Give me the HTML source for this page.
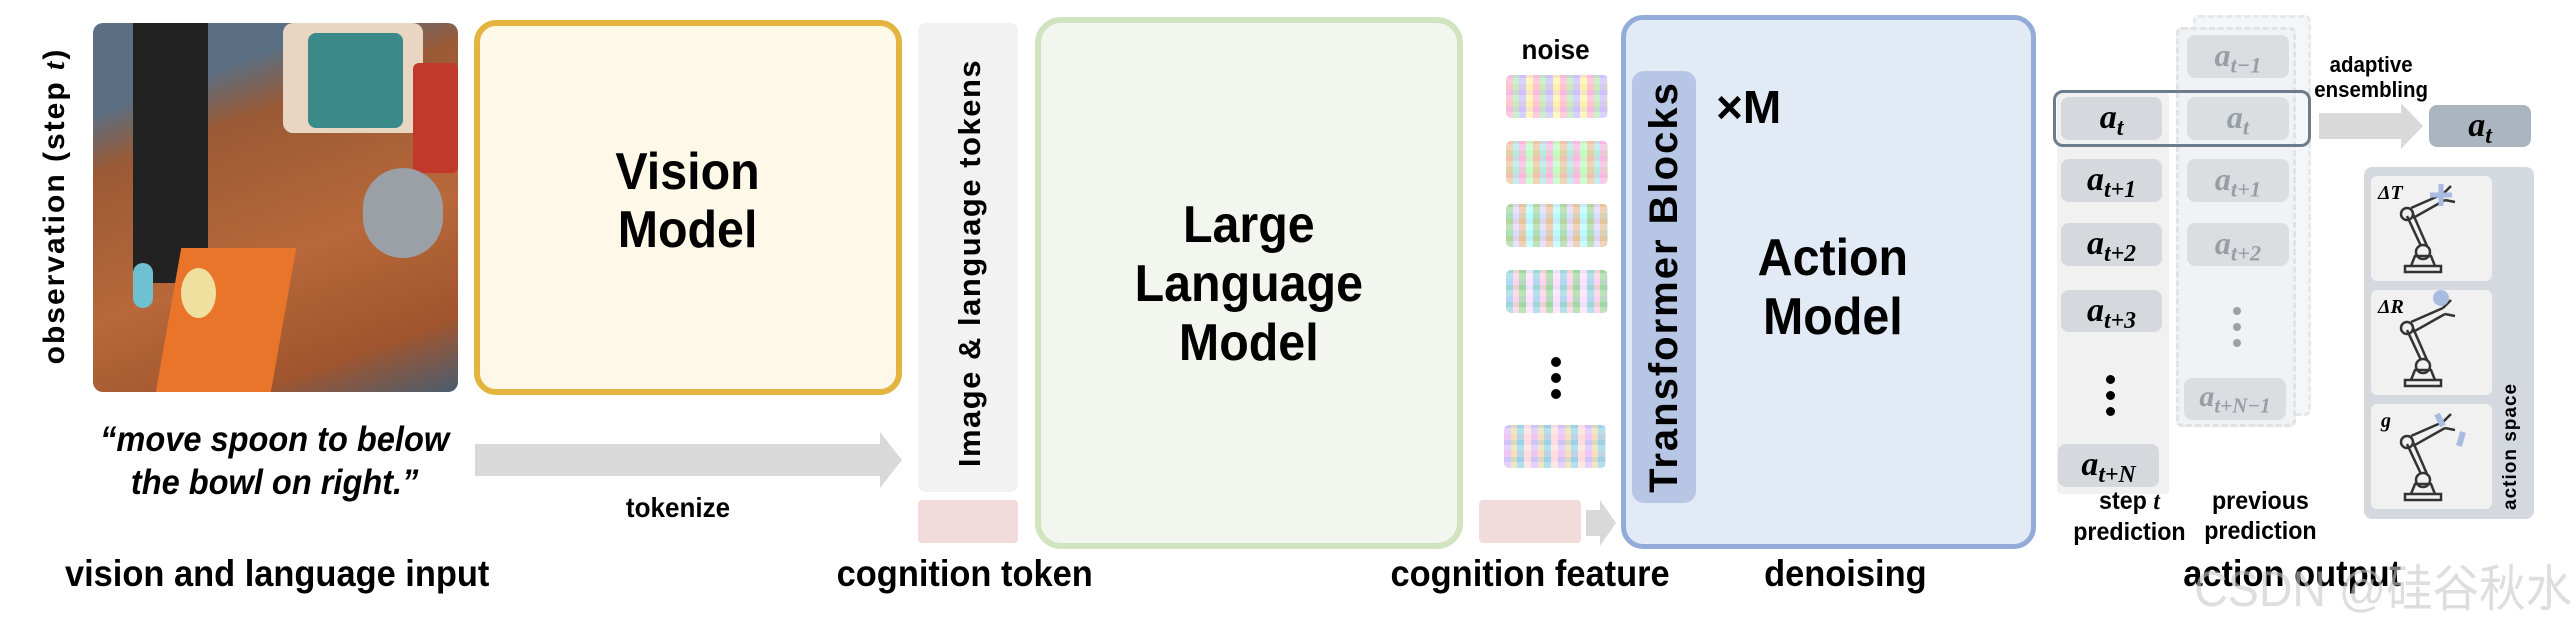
<!DOCTYPE html>
<html><head><meta charset="utf-8"><style>
*{margin:0;padding:0;box-sizing:border-box}
body{width:2576px;height:620px;background:#fff;position:relative;overflow:hidden;font-family:"Liberation Sans",sans-serif}
.a{position:absolute}
.t{position:absolute;text-align:center;white-space:nowrap;color:#000}
.c{display:inline-block;transform:scaleX(0.93);transform-origin:center}
.box{position:absolute;border-radius:8px;background:#d5d9dd}
.s{font-family:"Liberation Serif",serif;font-style:italic;font-weight:bold;position:absolute;text-align:center;white-space:nowrap}
.s sub{font-size:70%;vertical-align:-0.3em}
.f{color:#989ea6}
.np{position:absolute;width:102px;height:43px;border-radius:5px;
background:
repeating-linear-gradient(90deg,rgba(255,170,200,.6) 0 7px,rgba(170,230,170,.6) 7px 13px,rgba(190,180,255,.6) 13px 20px,rgba(255,240,150,.6) 20px 27px),
repeating-linear-gradient(0deg,rgba(255,255,255,.5) 0 6px,rgba(200,150,255,.4) 6px 11px,rgba(255,220,170,.5) 11px 17px)}
</style></head><body>

<!-- observation -->
<div class="t" style="left:-130px;top:186px;width:370px;height:40px;transform:rotate(-90deg);font-size:30px;font-weight:bold;letter-spacing:2px;line-height:40px">observation (step <i style="font-family:'Liberation Serif',serif">t</i>)</div>
<div class="a" style="left:93px;top:23px;width:365px;height:369px;border-radius:10px;overflow:hidden;background:linear-gradient(160deg,#5a6f84 0%,#5a6f84 18%,#9a5a35 30%,#b8683a 60%,#a0552e 85%,#4a5d70 100%)">
 <div class="a" style="left:190px;top:0;width:140px;height:110px;background:#e8d5c2;border-radius:10px"></div>
 <div class="a" style="left:215px;top:10px;width:95px;height:95px;background:#3a8a8a;border-radius:8px"></div>
 <div class="a" style="left:320px;top:40px;width:45px;height:110px;background:#c0392b;border-radius:6px"></div>
 <div class="a" style="left:270px;top:145px;width:80px;height:90px;background:#9aa0a6;border-radius:40px"></div>
 <div class="a" style="left:40px;top:0;width:75px;height:260px;background:#222"></div>
 <div class="a" style="left:75px;top:225px;width:115px;height:150px;background:#e8752a;transform:skewX(-10deg)"></div>
 <div class="a" style="left:88px;top:245px;width:35px;height:50px;background:#f0e0a0;border-radius:50%"></div>
 <div class="a" style="left:40px;top:240px;width:20px;height:45px;background:#6fc0d0;border-radius:10px"></div>
</div>
<div class="t" style="left:60px;top:418px;width:430px;font-size:35px;font-style:italic;font-weight:bold;line-height:43px"><span class="c">“move spoon to below<br>the bowl on right.”</span></div>

<!-- vision model -->
<div class="a" style="left:474px;top:20px;width:428px;height:375px;border:6px solid #e3b53f;border-radius:22px;background:#fdf8e7"></div>
<div class="t" style="left:474px;top:143px;width:428px;font-size:52px;font-weight:bold;line-height:58px"><span class="c">Vision<br>Model</span></div>

<!-- tokenize arrow -->
<svg class="a" style="left:470px;top:425px" width="440" height="70"><polygon points="5,19 410,19 410,7 432,35 410,63 410,51 5,51" fill="#d9d9d9"/></svg>
<div class="t" style="left:578px;top:492px;width:200px;font-size:28px;font-weight:bold"><span class="c">tokenize</span></div>

<!-- tokens column -->
<div class="a" style="left:918px;top:23px;width:100px;height:469px;border-radius:8px;background:#f2f2f2"></div>
<div class="t" style="left:745px;top:243px;width:450px;height:40px;line-height:40px;transform:rotate(-90deg);font-size:31px;font-weight:bold;letter-spacing:1.5px">Image &amp; language tokens</div>
<div class="a" style="left:918px;top:500px;width:100px;height:43px;border-radius:4px;background:#f2dbdb"></div>

<!-- LLM -->
<div class="a" style="left:1035px;top:17px;width:428px;height:532px;border:6px solid #d0e4c0;border-radius:26px;background:#f2f6ee"></div>
<div class="t" style="left:1035px;top:196px;width:428px;font-size:52px;font-weight:bold;line-height:59px"><span class="c">Large<br>Language<br>Model</span></div>

<!-- noise -->
<div class="t" style="left:1506px;top:34px;width:100px;font-size:28px;font-weight:bold"><span class="c">noise</span></div>
<div class="np" style="left:1506px;top:75px"></div>
<div class="np" style="left:1506px;top:141px;filter:hue-rotate(60deg)"></div>
<div class="np" style="left:1506px;top:204px;filter:hue-rotate(140deg)"></div>
<div class="np" style="left:1506px;top:270px;filter:hue-rotate(220deg)"></div>
<div class="a" style="left:1551px;top:357px;width:10px;height:10px;border-radius:50%;background:#000;box-shadow:0 16px 0 #000,0 32px 0 #000"></div>
<div class="np" style="left:1504px;top:425px;filter:hue-rotate(300deg)"></div>
<div class="a" style="left:1479px;top:500px;width:102px;height:43px;border-radius:4px;background:#f2dbdb"></div>
<svg class="a" style="left:1584px;top:498px" width="36" height="50"><polygon points="2,12 16,12 16,2 32,25 16,48 16,38 2,38" fill="#d9d9d9"/></svg>

<!-- action model -->
<div class="a" style="left:1621px;top:15px;width:415px;height:534px;border:5px solid #93abd9;border-radius:22px;background:#e1eaf5"></div>
<div class="a" style="left:1632px;top:71px;width:64px;height:432px;border-radius:12px;background:#b6c6e4"></div>
<div class="t" style="left:1439px;top:267px;width:450px;height:40px;line-height:40px;transform:rotate(-90deg);font-size:40px;font-weight:bold;letter-spacing:2px">Transformer Blocks</div>
<div class="t" style="left:1716px;top:80px;font-size:46px;font-weight:bold">×M</div>
<div class="t" style="left:1733px;top:229px;width:200px;font-size:52px;font-weight:bold;line-height:59px"><span class="c">Action<br>Model</span></div>

<!-- step column -->
<div class="a" style="left:2057px;top:92px;width:112px;height:402px;background:#f1f1f1;border-radius:4px"></div>
<!-- previous column (dashed) -->
<div class="a" style="left:2193px;top:15px;width:118px;height:401px;border:3px dashed #e6e9ec;border-radius:6px;background:#f5f6f7"></div>
<div class="a" style="left:2176px;top:27px;width:120px;height:400px;border:3px dashed #e0e3e6;border-radius:6px;background:#f1f2f3"></div>

<div class="box" style="left:2061px;top:97px;width:101px;height:43px"></div>
<div class="box" style="left:2061px;top:159px;width:101px;height:43px"></div>
<div class="box" style="left:2061px;top:223px;width:101px;height:43px"></div>
<div class="box" style="left:2061px;top:290px;width:101px;height:42px"></div>
<div class="box" style="left:2058px;top:444px;width:101px;height:43px"></div>
<div class="s" style="left:2061px;top:99px;width:101px;font-size:34px">a<sub>t</sub></div>
<div class="s" style="left:2061px;top:161px;width:101px;font-size:34px">a<sub>t+1</sub></div>
<div class="s" style="left:2061px;top:225px;width:101px;font-size:34px">a<sub>t+2</sub></div>
<div class="s" style="left:2061px;top:292px;width:101px;font-size:34px">a<sub>t+3</sub></div>
<div class="a" style="left:2106px;top:375px;width:9px;height:9px;border-radius:50%;background:#000;box-shadow:0 16px 0 #000,0 32px 0 #000"></div>
<div class="s" style="left:2058px;top:446px;width:101px;font-size:34px">a<sub>t+N</sub></div>

<div class="box" style="left:2187px;top:35px;width:102px;height:43px;background:#dbdee1"></div>
<div class="box" style="left:2187px;top:97px;width:102px;height:43px;background:#dbdee1"></div>
<div class="box" style="left:2187px;top:159px;width:102px;height:43px;background:#dbdee1"></div>
<div class="box" style="left:2187px;top:223px;width:102px;height:43px;background:#dbdee1"></div>
<div class="box" style="left:2184px;top:378px;width:102px;height:42px;background:#dbdee1"></div>
<div class="s f" style="left:2187px;top:37px;width:102px;font-size:32px">a<sub>t−1</sub></div>
<div class="s f" style="left:2187px;top:99px;width:102px;font-size:32px">a<sub>t</sub></div>
<div class="s f" style="left:2187px;top:161px;width:102px;font-size:32px">a<sub>t+1</sub></div>
<div class="s f" style="left:2187px;top:225px;width:102px;font-size:32px">a<sub>t+2</sub></div>
<div class="a" style="left:2233px;top:307px;width:8px;height:8px;border-radius:50%;background:#9aa0a6;box-shadow:0 16px 0 #9aa0a6,0 32px 0 #9aa0a6"></div>
<div class="s f" style="left:2184px;top:380px;width:102px;font-size:30px">a<sub>t+N−1</sub></div>

<div class="a" style="left:2053px;top:90px;width:258px;height:57px;border:3px solid #6b7d8d;border-radius:10px"></div>

<div class="t" style="left:2069px;top:486px;width:90px;font-size:25px;font-weight:bold;line-height:30px"><span class="c">step <i style="font-family:'Liberation Serif',serif">t</i><br>prediction</span></div>
<div class="t" style="left:2200px;top:486px;width:116px;font-size:25px;font-weight:bold;line-height:30px"><span class="c">previous<br>prediction</span></div>

<!-- ensembling -->
<div class="t" style="left:2310px;top:52px;width:120px;font-size:22px;font-weight:bold;line-height:25px"><span class="c">adaptive<br>ensembling</span></div>
<svg class="a" style="left:2316px;top:100px" width="110" height="52"><polygon points="3,13 85,13 85,3 107,26 85,49 85,39 3,39" fill="#d9d9d9"/></svg>
<div class="box" style="left:2429px;top:105px;width:102px;height:42px;background:#abb5bf"></div>
<div class="s" style="left:2429px;top:107px;width:102px;font-size:34px">a<sub>t</sub></div>

<!-- action space -->
<div class="a" style="left:2364px;top:167px;width:170px;height:352px;border-radius:8px;background:#d3d9df"></div>
<div class="a" style="left:2371px;top:176px;width:121px;height:105px;border-radius:6px;background:#f1f1f1"></div>
<div class="a" style="left:2371px;top:290px;width:121px;height:105px;border-radius:6px;background:#f1f1f1"></div>
<div class="a" style="left:2371px;top:404px;width:121px;height:105px;border-radius:6px;background:#f1f1f1"></div>
<div class="s" style="left:2378px;top:182px;font-size:20px">ΔT</div>
<div class="s" style="left:2378px;top:296px;font-size:20px">ΔR</div>
<div class="s" style="left:2381px;top:410px;font-size:20px">g</div>
<svg class="a" style="left:2371px;top:176px" width="121" height="333" fill="none" stroke="#333" stroke-width="2.5">
 <g id="r"><rect x="34" y="90" width="36" height="6"/><path d="M40 90 L44 80 L60 80 L64 90"/><circle cx="52" cy="76" r="7"/><path d="M50 70 L36 40 M56 70 L42 38"/><circle cx="36" cy="38" r="6"/><path d="M40 32 L72 18 M42 42 L74 24"/><path d="M72 18 L80 10 M74 24 L84 26"/></g>
 <use href="#r" y="114"/><use href="#r" y="228"/>
 <path d="M70 8 V30 M59 19 H81" stroke="#a9bbe0" stroke-width="5"/>
 <circle cx="70" cy="122" r="8" fill="#a9bbe0" stroke="none"/>
 <path d="M66 238 L72 250 M92 256 L88 270" stroke="#a9bbe0" stroke-width="6"/>
</svg>
<div class="t" style="left:2451px;top:437px;width:120px;height:26px;line-height:26px;transform:rotate(-90deg);font-size:19px;font-weight:bold;letter-spacing:1px">action space</div>

<!-- bottom labels -->
<div class="t" style="left:46px;top:553px;width:462px;font-size:37px;font-weight:bold"><span class="c">vision and language input</span></div>
<div class="t" style="left:805px;top:553px;width:320px;font-size:37px;font-weight:bold"><span class="c">cognition token</span></div>
<div class="t" style="left:1360px;top:553px;width:340px;font-size:37px;font-weight:bold"><span class="c">cognition feature</span></div>
<div class="t" style="left:1735px;top:553px;width:220px;font-size:37px;font-weight:bold"><span class="c">denoising</span></div>
<div class="t" style="left:2160px;top:553px;width:265px;font-size:37px;font-weight:bold"><span class="c">action output</span></div>
<div class="t" style="left:2180px;top:549px;width:400px;font-size:50px;color:rgba(200,200,200,.6);font-family:'Liberation Sans','Noto Sans CJK SC',sans-serif"><span class="c">CSDN @硅谷秋水</span></div>
</body></html>
